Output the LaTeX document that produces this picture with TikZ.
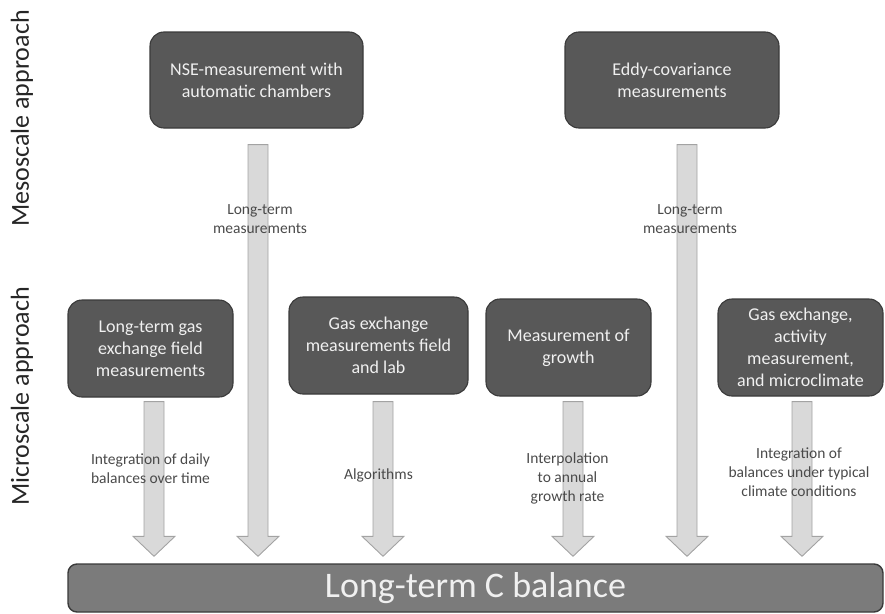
\documentclass[tikz,border=0pt]{standalone}
\usepackage{fontspec}
\setmainfont{Carlito}
\usepackage{tikz}
\usetikzlibrary{calc}

\definecolor{boxfill}{HTML}{585858}
\definecolor{boxline}{HTML}{3A3A3A}
\definecolor{barfill}{HTML}{7B7B7B}
\definecolor{arrfill}{HTML}{D9D9D9}
\definecolor{arrline}{HTML}{A3A3A3}
\definecolor{lbltext}{HTML}{4A4A4A}

% fat arrow: #1 top of the shaft, #2 node the tip points at
\newcommand{\fatarrow}[2]{%
  \filldraw[flow] let \p1=#1, \p2=(#2.north) in
    (\x1-10pt,\y1) -- (\x1+10pt,\y1) -- (\x1+10pt,\y2+27pt) -- (\x1+21pt,\y2+27pt)
    -- (\x1,\y2+7pt) -- (\x1-21pt,\y2+27pt) -- (\x1-10pt,\y2+27pt) -- cycle;}

\begin{document}
\begin{tikzpicture}[x=1pt,y=-1pt,align=center,
    box/.style={draw=boxline,line width=1.1pt,fill=boxfill,rounded corners=14pt,
      text=white!94!black,font=\fontsize{18}{22}\selectfont,inner sep=2pt},
    flow/.style={draw=arrline,fill=arrfill,line width=0.9pt},
    lbl/.style={text=lbltext,font=\fontsize{15.5}{19}\selectfont},
    side/.style={rotate=90,text=black!85,font=\fontsize{26}{30}\selectfont}]
		\useasboundingbox (0,0) rectangle (885,613);

		\node[side] (meso) at (22,118.5) {Mesoscale approach};
		\node[side] (micro) at (22,396.5) {Microscale approach};

		\node[box,minimum width=213pt,minimum height=96pt] (nse) at (256.5,80) {NSE-measurement with\\automatic chambers};
		\node[box,minimum width=214pt,minimum height=96pt] (eddy) at (672,80) {Eddy-covariance\\measurements};

		\node[box,minimum width=165pt,minimum height=97pt] (gasfield) at (150.5,348.5) {Long-term gas\\exchange field\\measurements};
		\node[box,minimum width=179pt,minimum height=97pt] (gaslab) at (378.5,345.5) {Gas exchange\\measurements field\\and lab};
		\node[box,minimum width=165pt,minimum height=97pt] (growth) at (568.5,347.5) {Measurement of\\growth};
		\node[box,minimum width=165pt,minimum height=97pt] (activity) at (800.5,347.5) {Gas exchange,\\activity\\measurement,\\and microclimate};

		\node[draw=boxline,line width=1.4pt,fill=barfill,rounded corners=9pt,
		      minimum width=815pt,minimum height=48pt,text=white!94!black,
		      font=\fontsize{36}{40}\selectfont] (bar) at (475.5,588) {Long-term C balance};

		\fatarrow{($(nse.south)+(1.5,16)$)}{bar}
		\fatarrow{($(eddy.south)+(15,16)$)}{bar}
		\fatarrow{($(gasfield.south)+(3.5,4)$)}{bar}
		\fatarrow{($(gaslab.south)+(4.5,7)$)}{bar}
		\fatarrow{($(growth.south)+(4.5,5)$)}{bar}
		\fatarrow{($(activity.south)+(1.5,5)$)}{bar}

		\node[lbl] (lbl1) at (260,219) {Long-term\\measurements};
		\node[lbl] (lbl2) at (690,219) {Long-term\\measurements};
		\node[lbl] (lbl3) at (150.5,469) {Integration of daily\\balances over time};
		\node[lbl] (lbl4) at (378.5,475) {Algorithms};
		\node[lbl] (lbl5) at (567.5,478) {Interpolation\\to annual\\growth rate};
		\node[lbl] (lbl6) at (799,472) {Integration of\\balances under typical\\climate conditions};
	\end{tikzpicture}
\end{document}
